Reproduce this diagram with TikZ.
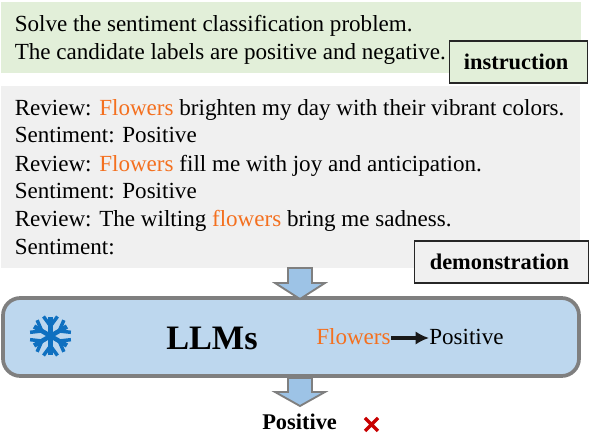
\documentclass[tikz,border=0pt]{standalone}
\usepackage{fontspec}
\setmainfont{Liberation Serif}
\usetikzlibrary{arrows.meta,positioning}
\definecolor{instrgreen}{HTML}{E2EFD9}
\definecolor{demogray}{HTML}{F0F0F0}
\definecolor{llmblue}{HTML}{BDD7EE}
\definecolor{arrowblue}{HTML}{9DC3E6}
\definecolor{edgegray}{HTML}{7F7F7F}
\definecolor{wordorange}{HTML}{F4701F}
\definecolor{flakeblue}{HTML}{0F70C0}
\definecolor{crossred}{HTML}{C80000}
\newcommand{\hl}[1]{\textcolor{wordorange}{#1}}

\begin{document}
\begin{tikzpicture}[x=0.75pt, y=-0.75pt,
        every node/.style={font=\fontsize{17.3}{20}\selectfont, inner sep=0pt, anchor=base west},
        tagbox/.style={draw=black!85, line width=0.9pt, minimum height=31.5pt, anchor=center, font=\fontsize{16.8}{20}\selectfont\bfseries},
        blockarrow/.style={draw=edgegray, line width=1.4pt, fill=arrowblue},
        flake/.style={draw=flakeblue, line width=2.6pt}
      ]
        \useasboundingbox (0,0) rectangle (590,434);

        % Hintergruende
        \fill[instrgreen] (1,2) rectangle (581,73);
        \fill[demogray] (1,86) rectangle (580,268);

        % Anweisung
        \node (solve) at (14.5,32) {Solve the sentiment classification problem.};
        \node (cands) at (14.5,60) {The candidate labels are positive and negative.};

        % Beispiele
        \node (rev1) at (14.5,116) {Review: \hl{Flowers} brighten my day with their vibrant colors.};
        \node (sen1) at (14.5,143) {Sentiment: Positive};
        \node (rev2) at (14.5,172) {Review: \hl{Flowers} fill me with joy and anticipation.};
        \node (sen2) at (14.5,199) {Sentiment: Positive};
        \node (rev3) at (14.5,227) {Review: The wilting \hl{flowers} bring me sadness.};
        \node (sen3) at (14.5,255) {Sentiment:};

        % Etiketten
        \node[tagbox, fill=instrgreen, minimum width=104pt] (instr) at (518.5,62) {instruction\hspace*{3.5pt}};
        \node[tagbox, fill=demogray, minimum width=130pt] (demo) at (501.5,262) {demonstration\hspace*{3pt}};

        % Modell
        \draw[draw=edgegray, line width=2.8pt, fill=llmblue, rounded corners=13pt] (3,298) rectangle (579,376);
        \node[font=\fontsize{25.7}{30}\selectfont\bfseries] (llms) at (166,350) {LLMs};
        \node (flowers) at (316,345) {\hl{Flowers}};
        \node (pos) at (429,345) {Positive};
        \draw[-{Latex[length=10pt,width=10pt]}, line width=2.6pt, black!90] (flowers.east |- 0,338) -- (pos.west |- 0,338);

        % Blockpfeile
        \foreach \y/\ybot/\ytip in {268/283/299, 378/392/406} {%
          \draw[blockarrow] (288,\y) -- (312,\y) -- (312,\ybot) -- (325,\ybot) -- (300,\ytip) -- (275,\ybot) -- (288,\ybot) -- cycle;
        }

        % Schneeflocke
        \foreach \a in {30,90,...,330} {%
          \begin{scope}[shift={(50.5,336)}, rotate=\a]
            \draw[flake, line width=3.4pt] (0,0) -- (19,0);
            \draw[flake] (10,0) -- ++(9.5,-7) (10,0) -- ++(9.5,7);
          \end{scope}
        }

        % Ergebnis
        \node[font=\fontsize{16.8}{20}\selectfont\bfseries] (result) at (262,430) {Positive};
        \coordinate (c1) at (365,418);
        \coordinate (c2) at (378,431);
        \coordinate (c3) at (378,418);
        \coordinate (c4) at (365,431);
        \draw[crossred, line width=2.6pt] (c1) -- (c2) (c3) -- (c4);
      \end{tikzpicture}
\end{document}
